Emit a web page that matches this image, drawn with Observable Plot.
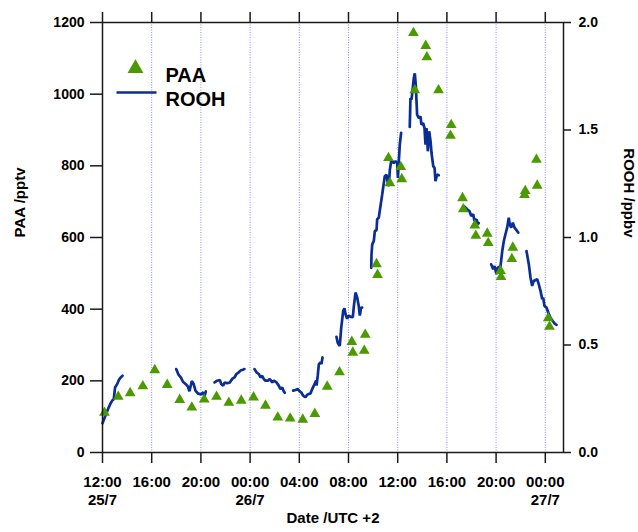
<!DOCTYPE html>
<html>
<head>
<meta charset="utf-8">
<script src="https://cdn.jsdelivr.net/npm/d3@7"></script>
<script src="https://cdn.jsdelivr.net/npm/@observablehq/plot@0.6"></script>
<style>
  html, body { margin: 0; padding: 0; background: #fff; }
</style>
</head>
<body>
<div id="chart"></div>
<script>
// Time origin: 25/7 12:00 (UTC +2 local clock); hours measured from it
const startYear = 2015, startMonth = 6, startDay = 25, startHour = 12;
const xEndHours = 37.48;

// X axis ticks (hours from start) and labels
const xTickHours = [0, 4, 8, 12, 16, 20, 24, 28, 32, 36];
const xTickLabels = ["12:00\n25/7", "16:00", "20:00", "00:00\n26/7", "04:00", "08:00", "12:00", "16:00", "20:00", "00:00\n27/7"];
const gridHours = [4, 8, 12, 16, 20, 24, 28, 32, 36];

// Left axis (PAA, pptv) and right axis (ROOH, ppbv)
const paaTicks = [0, 200, 400, 600, 800, 1000, 1200];
const roohTicks = [0.0, 0.5, 1.0, 1.5, 2.0];
const paaMax = 1200, roohMax = 2.0;

// PAA measurements (hours from start, pptv)
const paaHours = [0.16, 1.28, 2.25, 3.28, 4.25, 5.26, 6.28, 7.26, 8.27, 9.27, 10.27, 11.28, 12.28, 13.25, 14.25, 15.26, 16.28, 17.26, 18.27, 19.27,
  20.27, 20.35, 21.36, 21.28, 22.28, 22.36, 23.25, 23.36, 24.25, 24.33, 25.28, 25.39, 26.28, 26.37, 27.32, 28.35, 28.29,
  29.27, 29.33, 30.27, 30.35, 31.28, 31.36, 32.36, 32.40, 33.36, 33.28, 34.37, 34.31, 35.28, 35.34, 36.24, 36.34];
const paaValues = [111, 156, 166, 185, 230, 189, 147, 126, 148, 156, 139, 145, 154, 131, 98, 95, 92, 108, 184, 224,
  309, 279, 329, 284, 526, 496, 822, 752, 797, 763, 1171, 1011, 1135, 1103, 1011, 914, 884,
  710, 679, 634, 605, 611, 585, 507, 490, 572, 540, 730, 719, 817, 745, 375, 351];

// ROOH measurements, one array per continuous segment (hours from start, ppbv)
const roohHours = [
  [0.0, 0.24, 0.51, 0.65, 0.79, 0.92, 1.02, 1.2, 1.33, 1.46, 1.63],
  [5.99, 6.18, 6.38, 6.54, 6.75, 6.95, 7.07, 7.26, 7.40, 7.56, 7.75, 8.00, 8.19, 8.29, 8.40],
  [9.11, 9.33, 9.54, 9.65, 9.81, 9.94, 10.14, 10.35, 10.54, 10.73, 10.89, 11.08, 11.22, 11.41, 11.54],
  [12.36, 12.52, 12.71, 12.85, 12.98, 13.11, 13.25, 13.44, 13.60, 13.80, 13.93, 14.15, 14.33, 14.47, 14.61, 14.74, 14.82],
  [15.50, 15.69, 15.88, 16.04, 16.15, 16.32, 16.42, 16.50, 16.64, 16.77, 16.91, 17.05, 17.18, 17.26, 17.37, 17.40, 17.50, 17.59, 17.72, 17.80, 17.89],
  [19.02, 19.13, 19.29, 19.41, 19.57, 19.67, 19.76, 19.89, 20.02, 20.19, 20.35, 20.43, 20.57, 20.71, 20.84, 20.92, 21.02, 21.11],
  [21.85, 21.87, 21.93, 22.06, 22.14, 22.28, 22.33, 22.46, 22.54, 22.66, 22.74, 22.87, 22.95, 23.09, 23.20, 23.28, 23.36, 23.47, 23.55, 23.68, 23.82, 23.96, 24.02, 24.09, 24.17, 24.28],
  [24.98, 25.04, 25.12, 25.20, 25.31, 25.39, 25.47, 25.58, 25.72, 25.85, 25.93, 26.07, 26.18, 26.26, 26.34, 26.45, 26.56, 26.67, 26.75, 26.89, 27.00, 27.07, 27.21, 27.34],
  [29.37, 29.65, 29.84, 29.98, 30.14, 30.24, 30.41, 30.51, 30.59],
  [31.60, 31.76, 31.87, 32.03, 32.14, 32.36, 32.50, 32.63, 32.76, 32.90, 33.03, 33.11, 33.23, 33.36, 33.50, 33.66, 33.80],
  [34.47, 34.66, 34.80, 34.93, 35.06, 35.34, 35.47, 35.61, 35.75, 35.83, 35.93, 36.10, 36.24, 36.42, 36.61, 36.77, 36.91]
];
const roohPpbv = [
  [0.136, 0.172, 0.210, 0.227, 0.241, 0.249, 0.302, 0.319, 0.337, 0.348, 0.357],
  [0.388, 0.362, 0.348, 0.329, 0.319, 0.306, 0.285, 0.332, 0.320, 0.288, 0.275, 0.270, 0.280, 0.260, 0.284],
  [0.326, 0.334, 0.337, 0.319, 0.311, 0.326, 0.322, 0.326, 0.342, 0.349, 0.365, 0.373, 0.381, 0.385, 0.388],
  [0.388, 0.373, 0.365, 0.349, 0.357, 0.342, 0.334, 0.334, 0.342, 0.326, 0.334, 0.326, 0.311, 0.295, 0.302, 0.284, 0.278],
  [0.288, 0.291, 0.295, 0.284, 0.280, 0.264, 0.260, 0.257, 0.269, 0.272, 0.275, 0.295, 0.311, 0.321, 0.334, 0.311, 0.357, 0.411, 0.419, 0.411, 0.442],
  [0.538, 0.509, 0.496, 0.581, 0.659, 0.671, 0.643, 0.622, 0.637, 0.631, 0.630, 0.677, 0.744, 0.720, 0.679, 0.637, 0.673, 0.674],
  [0.859, 0.921, 0.968, 0.984, 1.030, 1.034, 1.085, 1.092, 1.123, 1.169, 1.200, 1.253, 1.285, 1.292, 1.253, 1.239, 1.314, 1.355, 1.355, 1.346, 1.355, 1.346, 1.277, 1.355, 1.432, 1.487],
  [1.514, 1.649, 1.641, 1.680, 1.741, 1.764, 1.710, 1.571, 1.555, 1.563, 1.525, 1.532, 1.509, 1.432, 1.509, 1.401, 1.494, 1.448, 1.393, 1.332, 1.323, 1.262, 1.293, 1.290],
  [1.146, 1.131, 1.122, 1.100, 1.108, 1.077, 1.085, 1.062, 1.067],
  [0.875, 0.852, 0.867, 0.829, 0.860, 0.867, 0.937, 0.984, 1.015, 1.046, 1.092, 1.061, 1.046, 1.069, 1.046, 1.034, 1.023],
  [0.937, 0.876, 0.813, 0.775, 0.798, 0.806, 0.782, 0.752, 0.713, 0.720, 0.682, 0.674, 0.651, 0.627, 0.612, 0.599, 0.594]
];

// Helpers
const t0 = Date.UTC(startYear, startMonth, startDay, startHour);
const toDate = h => new Date(t0 + h * 3600000);
const scaleFactor = paaMax / roohMax; // ROOH drawn on the PAA scale, right axis relabels

const paa = paaHours.map((h, i) => ({date: toDate(h), value: paaValues[i]}));
const rooh = roohHours.flatMap((seg, s) => seg.map((h, i) => ({date: toDate(h), value: roohPpbv[s][i], seg: s})));
const xTicks = xTickHours.map(toDate);
const labelOf = new Map(xTickHours.map((h, i) => [+toDate(h), xTickLabels[i]]));

const green = "#4b9a00";
const blue = "#0a2d96";
const axisColor = "#1a1a1a";

const chart = Plot.plot({
  width: 638,
  height: 532,
  marginLeft: 102,
  marginRight: 75,
  marginTop: 22,
  marginBottom: 80,
  style: {fontFamily: "'Liberation Sans', Arial, Helvetica, sans-serif", fontWeight: "bold", fontSize: "14px", color: "#000", background: "#fff"},
  x: {type: "utc", domain: [toDate(0), toDate(xEndHours)]},
  y: {domain: [0, paaMax]},
  marks: [
    Plot.ruleX(gridHours.map(toDate), {stroke: "#8080ff", strokeWidth: 1, strokeDasharray: "1,1.5", strokeOpacity: 0.9}),
    Plot.line(rooh, {x: "date", y: d => d.value * scaleFactor, z: "seg", stroke: blue, strokeWidth: 2.7, strokeLinejoin: "miter"}),
    Plot.dot(paa, {x: "date", y: "value", symbol: "triangle", r: 4, fill: green, stroke: "none"}),
    Plot.frame({stroke: axisColor, strokeWidth: 1.5}),
    Plot.axisY({anchor: "left", ticks: paaTicks, tickFormat: d => String(d), tickSize: 12, tickPadding: 6, fontSize: 14, label: null, stroke: axisColor, strokeWidth: 1.5}),
    Plot.axisY({anchor: "right", ticks: roohTicks.map(v => v * scaleFactor), tickFormat: d => (d / scaleFactor).toFixed(1), tickSize: 7, tickPadding: 8, fontSize: 14, label: null, stroke: axisColor, strokeWidth: 1.5}),
    Plot.axisX({anchor: "bottom", ticks: xTicks, tickFormat: d => labelOf.get(+d), tickSize: 11, tickPadding: 11, fontSize: 15, lineHeight: 1.17, label: null, stroke: axisColor, strokeWidth: 1.5}),
    Plot.axisX({anchor: "top", ticks: xTicks, tickFormat: () => "", tickSize: 11, label: null, stroke: axisColor, strokeWidth: 1.5}),
    // Axis titles
    Plot.text(["PAA /pptv"], {frameAnchor: "left", dx: -82, rotate: -90, fontSize: 15}),
    Plot.text(["ROOH /ppbv"], {frameAnchor: "right", dx: 65, rotate: 90, fontSize: 15}),
    Plot.text(["Date /UTC +2"], {frameAnchor: "bottom", dy: 70, fontSize: 15}),
    // Legend
    Plot.dot(["PAA"], {frameAnchor: "top-left", dx: 33, dy: 46, symbol: "triangle", r: 5.9, fill: green, stroke: "none"}),
    Plot.dot(["ROOH"], {frameAnchor: "top-left", dx: 34, dy: 70, symbol: {draw(c) { c.moveTo(-20, 0); c.lineTo(20, 0); }}, fill: "none", stroke: blue, strokeWidth: 2.7}),
    Plot.text(["PAA"], {frameAnchor: "top-left", dx: 63, dy: 45.5, textAnchor: "start", fontSize: 20}),
    Plot.text(["ROOH"], {frameAnchor: "top-left", dx: 63, dy: 69.5, textAnchor: "start", fontSize: 20})
  ]
});
document.getElementById("chart").appendChild(chart);
</script>
</body>
</html>
